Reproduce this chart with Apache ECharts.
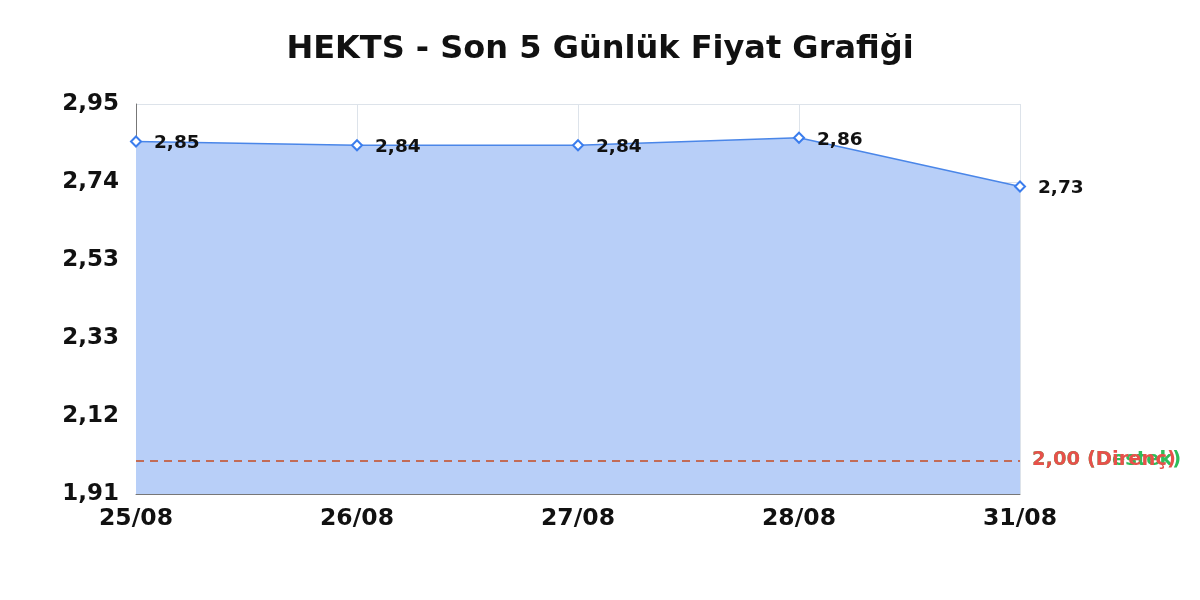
<!DOCTYPE html>
<html><head><meta charset="utf-8">
<script src="https://cdn.jsdelivr.net/npm/echarts@6/dist/echarts.min.js"></script>
<style>html,body{margin:0;padding:0;background:#fff}#c{width:1200px;height:600px}</style>
</head><body><div id="c"></div>
<script>
var categories = ['25/08','26/08','27/08','28/08','31/08'];
var prices = [2.85, 2.84, 2.84, 2.86, 2.73];
var supportLevel = 2.00;
var resistanceLevel = 2.00;
var yMin = 1.91, yMax = 2.95;

function fmt(v){ return v.toFixed(2).replace('.', ','); }

var chart = echarts.init(document.getElementById('c'));
var font = '"DejaVu Sans", Verdana, sans-serif';
chart.setOption({
  animation: false,
  backgroundColor: '#fff',
  title: {
    text: 'HEKTS - Son 5 Günlük Fiyat Grafiği',
    left: 'center', top: 29,
    textStyle: { fontFamily: font, fontWeight: 'bold', fontSize: 32, color: '#111' }
  },
  grid: { left: 136, right: 180, top: 104, bottom: 106 },
  xAxis: {
    type: 'category', data: categories, boundaryGap: false,
    axisLine: { lineStyle: { color: '#777', width: 1 } },
    axisTick: { show: false },
    axisLabel: { fontFamily: font, fontWeight: 'bold', fontSize: 23.5, color: '#111', margin: 13 },
    splitLine: { show: true, lineStyle: { color: '#dde3ea' } }
  },
  yAxis: {
    type: 'value', min: yMin, max: yMax, interval: (yMax - yMin) / 5,
    axisLine: { show: true, lineStyle: { color: '#777', width: 1 } },
    axisTick: { show: false },
    axisLabel: { fontFamily: font, fontWeight: 'bold', fontSize: 23, color: '#111', margin: 17,
      formatter: function(v){ return fmt(v); } },
    splitLine: { show: true, lineStyle: { color: '#dde3ea' } }
  },
  series: [{
    type: 'line', data: prices,
    symbol: 'diamond', symbolSize: 10,
    lineStyle: { color: '#4a86e8', width: 1.5 },
    itemStyle: { color: '#fff', borderColor: '#3b7ded', borderWidth: 2 },
    areaStyle: { color: '#b8cff8', opacity: 1 },
    label: { show: true, position: 'right', distance: 12, offset: [0, 2],
      fontFamily: font, fontWeight: 'bold', fontSize: 18.5, color: '#111',
      formatter: function(p){ return fmt(p.value); } },
    markLine: {
      silent: true, symbol: 'none',
      data: [
        { yAxis: supportLevel, lineStyle: { color: '#2ebd5a', type: [8, 6], width: 1.5 },
          label: { formatter: fmt(supportLevel) + ' (Destek)', color: '#2ebd5a' } },
        { yAxis: resistanceLevel, lineStyle: { color: '#e8504a', type: [8, 6], width: 1.5 },
          label: { formatter: fmt(resistanceLevel) + ' (Direnç)', color: '#e8504a' } }
      ],
      label: { position: 'end', distance: 12, fontFamily: font, fontWeight: 'bold', fontSize: 19.5 }
    }
  }]
});
</script></body></html>
